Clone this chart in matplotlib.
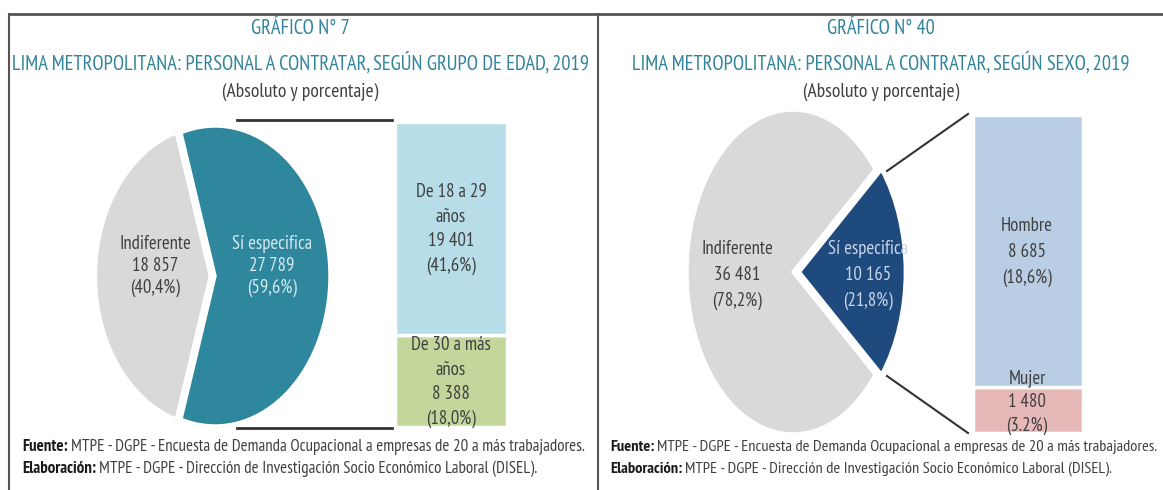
import matplotlib
matplotlib.use("Agg")
import matplotlib.pyplot as plt

plt.rcParams['font.family'] = ['PT Sans Narrow', 'Roboto Condensed', 'Liberation Sans', 'DejaVu Sans']

# data, left chart (grupo de edad)
edad_pie_labels = ["Sí especifica", "Indiferente"]
edad_pie_values = [27789, 18857]
edad_pie_pct = ["59,6%", "40,4%"]
edad_bar_labels = ["De 30 a más\naños", "De 18 a 29\naños"]
edad_bar_values = [8388, 19401]
edad_bar_pct = ["18,0%", "41,6%"]

# data, right chart (sexo)
sexo_pie_labels = ["Sí especifica", "Indiferente"]
sexo_pie_values = [10165, 36481]
sexo_pie_pct = ["21,8%", "78,2%"]
sexo_bar_labels = ["Mujer", "Hombre"]
sexo_bar_values = [1480, 8685]
sexo_bar_pct = ["3.2%", "18,6%"]

W, H = 1163, 490
TEAL = '#31849b'
TXT = '#404040'


def fmt(n):
    return f"{n:,}".replace(",", " ")


def px_axes(fig, x0, y0, x1, y1):
    # axes from pixel box (top-left origin)
    return fig.add_axes([x0 / W, 1 - y1 / H, (x1 - x0) / W, (y1 - y0) / H])


def draw_pie(fig, cx, cy, rx, ry, values, colors, explode):
    pad = 1.3
    ax = px_axes(fig, cx - pad * rx, cy - pad * ry, cx + pad * rx, cy + pad * ry)
    frac = values[0] / sum(values)
    ax.pie(values, colors=colors, startangle=-frac * 180, counterclock=True,
           explode=explode, wedgeprops=dict(edgecolor='white', linewidth=2.5))
    ax.set_aspect('auto')
    ax.set_xlim(-pad, pad)
    ax.set_ylim(-pad, pad)
    ax.axis('off')
    return ax


def draw_bar(fig, x0, y0, x1, y1, values, colors):
    ax = px_axes(fig, x0, y0, x1, y1)
    bottom = 0
    for v, c in zip(values, colors):
        ax.bar([0], [v], bottom=bottom, width=1, color=c, edgecolor='white', linewidth=2.5)
        bottom += v
    ax.set_xlim(-0.5, 0.5)
    ax.set_ylim(0, sum(values))
    ax.axis('off')
    return ax


fig = plt.figure(figsize=(W / 100, H / 100), dpi=100)
bg = fig.add_axes([0, 0, 1, 1])
bg.set_xlim(0, W)
bg.set_ylim(H, 0)
bg.axis('off')
bg.set_zorder(10)  # texts above the pies and bars

# frame lines
bg.plot([9, W], [14, 14], color='#555555', lw=2)
bg.plot([9, 9], [14, H], color='#555555', lw=1.5)
bg.plot([598, 598], [14, H], color='#555555', lw=1.5)

# titles
for xc, num, sub in [(300, "GRÁFICO N° 7", "LIMA METROPOLITANA: PERSONAL A CONTRATAR, SEGÚN GRUPO DE EDAD, 2019"),
                     (881, "GRÁFICO N° 40", "LIMA METROPOLITANA: PERSONAL A CONTRATAR, SEGÚN SEXO, 2019")]:
    bg.text(xc, 28, num, color=TEAL, fontsize=14.8, ha='center', va='center')
    bg.text(xc, 63, sub, color=TEAL, fontsize=14.8, ha='center', va='center')
    bg.text(xc, 92, "(Absoluto y porcentaje)", color=TXT, fontsize=14, ha='center', va='center')

# left chart
draw_pie(fig, 215, 276, 115, 150, edad_pie_values, ['#2f879d', '#d9d9d9'], [0, 0.04])
draw_bar(fig, 395, 122, 507, 427, edad_bar_values, ['#c3d69b', '#b7dde8'])
bg.plot([237, 392], [120, 120], color='#333333', lw=2)
bg.plot([237, 392], [428, 428], color='#333333', lw=2)
bg.text(272, 266, f"{edad_pie_labels[0]}\n{fmt(edad_pie_values[0])}\n({edad_pie_pct[0]})",
        color='#d6eaf0', fontsize=13.5, ha='center', va='center', linespacing=1.3)
bg.text(155, 266, f"{edad_pie_labels[1]}\n{fmt(edad_pie_values[1])}\n({edad_pie_pct[1]})",
        color=TXT, fontsize=13.5, ha='center', va='center', linespacing=1.3)
bg.text(451, 229, f"{edad_bar_labels[1]}\n{fmt(edad_bar_values[1])}\n({edad_bar_pct[1]})",
        color=TXT, fontsize=13.5, ha='center', va='center', linespacing=1.45)
bg.text(451, 382, f"{edad_bar_labels[0]}\n{fmt(edad_bar_values[0])}\n({edad_bar_pct[0]})",
        color=TXT, fontsize=13.5, ha='center', va='center', linespacing=1.45)

# right chart
draw_pie(fig, 793, 272, 106, 162, sexo_pie_values, ['#1f4a7e', '#d9d9d9'], [0.06, 0])
draw_bar(fig, 973, 115, 1083, 433, sexo_bar_values, ['#e6b9b8', '#b9cde5'])
bg.plot([887, 968], [171, 114], color='#333333', lw=1.5)
bg.plot([887, 968], [376, 433], color='#333333', lw=1.5)
bg.text(868, 275, f"{sexo_pie_labels[0]}\n{fmt(sexo_pie_values[0])}\n({sexo_pie_pct[0]})",
        color='#c9d6ea', fontsize=13.5, ha='center', va='center', linespacing=1.55)
bg.text(737, 275, f"{sexo_pie_labels[1]}\n{fmt(sexo_pie_values[1])}\n({sexo_pie_pct[1]})",
        color=TXT, fontsize=13.5, ha='center', va='center', linespacing=1.55)
bg.text(1027, 252, f"{sexo_bar_labels[1]}\n{fmt(sexo_bar_values[1])}\n({sexo_bar_pct[1]})",
        color=TXT, fontsize=13.5, ha='center', va='center', linespacing=1.55)
bg.text(1027, 402, f"{sexo_bar_labels[0]}\n{fmt(sexo_bar_values[0])}\n({sexo_bar_pct[0]})",
        color=TXT, fontsize=13.5, ha='center', va='center', linespacing=1.45)

# footers
renderer = fig.canvas.get_renderer()
fuente = "MTPE - DGPE - Encuesta de Demanda Ocupacional a empresas de 20 a más trabajadores."
elab = "MTPE - DGPE - Dirección de Investigación Socio Económico Laboral (DISEL)."
for x0, fs in [(22, 12.2), (610, 11.8)]:
    for y, head, rest in [(447, "Fuente:", fuente), (469, "Elaboración:", elab)]:
        t = bg.text(x0, y, head, fontsize=fs, fontweight='bold', color='#1a1a1a',
                    ha='left', va='center')
        bb = t.get_window_extent(renderer)
        bg.text(x0 + bb.width + 3, y, rest, fontsize=fs, color=TXT, ha='left', va='center')

fig.savefig('out.png', dpi=100)
